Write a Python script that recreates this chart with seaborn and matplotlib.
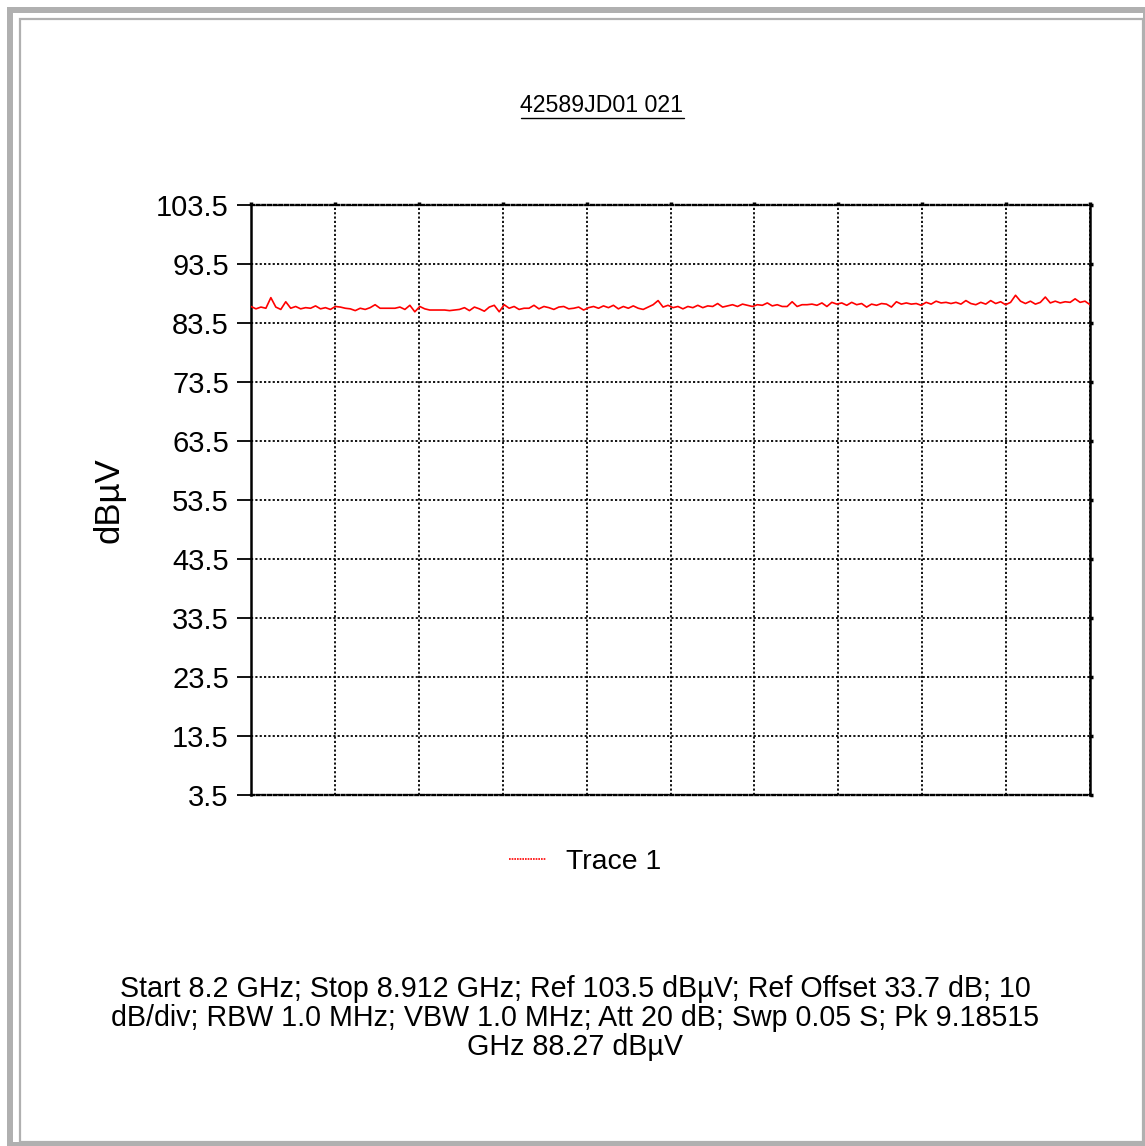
import numpy as np
import pandas as pd
import matplotlib
matplotlib.use("Agg")
import matplotlib.pyplot as plt
from matplotlib.patches import Rectangle
from matplotlib.lines import Line2D
import seaborn as sns

# ---- chart data ----
title = "42589JD01 021"
y_label = "dBµV"
trace_name = "Trace 1"
f_start, f_stop = 8.2, 8.912          # GHz, sweep span
y_ticks = [3.5, 13.5, 23.5, 33.5, 43.5, 53.5, 63.5, 73.5, 83.5, 93.5, 103.5]
n_div = 10

# trace level (dBuV) read across the sweep, left to right
level = [
    86.3, 85.9, 86.2, 86.0, 87.8, 86.2, 85.8, 87.1, 86.0, 86.3, 85.9, 86.1, 86.0, 86.4,
    85.9, 86.1, 85.8, 86.3, 86.2, 86.0, 85.9, 85.6, 86.0, 85.8, 86.1, 86.6, 86.0, 86.0, 86.0,
    86.0, 86.2, 85.8, 86.5, 85.4, 86.3, 85.9, 85.7, 85.7, 85.7, 85.7, 85.6, 85.7, 85.8,
    86.1, 85.6, 86.2, 85.9, 85.5, 86.2, 86.5, 85.4, 86.6, 86.0, 86.3, 85.8, 86.0, 86.0,
    86.5, 85.9, 86.3, 86.1, 85.8, 86.2, 86.3, 85.9, 86.0, 86.2, 85.7, 86.1, 86.3, 86.0,
    86.4, 86.1, 86.5, 85.9, 86.3, 86.0, 86.4, 86.0, 85.8, 86.2, 86.6, 87.3, 86.2, 86.5,
    86.1, 86.3, 85.9, 86.3, 86.1, 86.5, 86.1, 86.4, 86.3, 86.8, 86.2, 86.4, 86.6, 86.3,
    86.7, 86.5, 86.3, 86.6, 86.5, 86.9, 86.4, 86.6, 86.3, 86.3, 87.1, 86.3, 86.6, 86.6,
    86.7, 86.5, 86.9, 86.3, 87.0, 86.7, 86.9, 86.5, 87.0, 86.6, 86.8, 86.2, 86.7, 86.5,
    86.8, 86.7, 86.2, 87.1, 86.7, 86.9, 86.7, 86.8, 86.5, 87.0, 86.7, 87.2, 86.9, 87.0,
    86.8, 87.0, 86.7, 87.3, 86.8, 86.6, 87.0, 86.7, 87.3, 86.8, 87.1, 86.6, 87.0, 88.2,
    87.2, 86.8, 87.2, 86.7, 87.0, 87.9, 86.9, 87.2, 86.9, 87.1, 87.0, 87.6, 87.0, 87.2, 86.6,
]

footer = ("Start 8.2 GHz; Stop 8.912 GHz; Ref 103.5 dBµV; Ref Offset 33.7 dB; 10\n"
          "dB/div; RBW 1.0 MHz; VBW 1.0 MHz; Att 20 dB; Swp 0.05 S; Pk 9.18515\n"
          "GHz 88.27 dBµV")

df = pd.DataFrame({
    "freq": np.linspace(f_start, f_stop, len(level)),
    "level": level,
    "trace": trace_name,
})

sns.set_style("white")
plt.rcParams["font.family"] = ["Liberation Sans", "DejaVu Sans"]
plt.rcParams["text.color"] = "black"
plt.rcParams["ytick.labelcolor"] = "black"
plt.rcParams["axes.labelcolor"] = "black"

W, H = 1145, 1146
fig = plt.figure(figsize=(W / 100, H / 100), dpi=100)

def fx(x):
    return x / W

def fy(y):
    return 1 - y / H

# page frame (behind everything)
fig.patches.append(Rectangle((fx(7), fy(1146)), fx(1145) - fx(7), fy(7) - fy(1146),
                             transform=fig.transFigure, facecolor="#b0b0b0", edgecolor="none", zorder=-3))
fig.patches.append(Rectangle((fx(13), fy(1142)), fx(1143) - fx(13), fy(13) - fy(1142),
                             transform=fig.transFigure, facecolor="white", edgecolor="none", zorder=-2))
fig.patches.append(Rectangle((fx(20), fy(1142)), fx(1143) - fx(20), fy(19) - fy(1142),
                             transform=fig.transFigure, facecolor="none", edgecolor="#b0b0b0",
                             linewidth=1.6, zorder=-1))

ax = fig.add_axes([fx(251), fy(795), fx(1090) - fx(251), fy(205) - fy(795)])
ax.set_facecolor("none")

sns.lineplot(data=df, x="freq", y="level", hue="trace", palette=["#ff0000"],
             linewidth=1.2, ax=ax, legend=False, zorder=3)

ax.set_xlim(f_start, f_stop)
ax.set_ylim(y_ticks[0], y_ticks[-1])
ax.set_xticks(np.linspace(f_start, f_stop, n_div + 1))
ax.set_xticklabels([])
ax.set_yticks(y_ticks)
ax.set_yticklabels([f"{t:.1f}" for t in y_ticks], fontsize=21)
ax.set_xlabel("")
ax.set_ylabel(y_label, fontsize=25, labelpad=22)

ax.grid(True, color="black", linestyle=(0, (1.2, 1.2)), linewidth=1.3)
ax.tick_params(axis="y", left=True, right=False, length=10, width=1.3, color="black",
               pad=6, direction="out")
ax.tick_params(axis="x", bottom=False, top=True, length=2.5, width=2.5, color="black")
for side in ["left", "right"]:
    ax.spines[side].set_color("black")
    ax.spines[side].set_linewidth(1.8)
for side in ["top", "bottom"]:
    ax.spines[side].set_color("black")
    ax.spines[side].set_linewidth(1.7)
    ax.spines[side].set_linestyle((0, (1.2, 1.2)))

# short square tick marks on the right edge
ax_r = ax.twinx()
ax_r.set_ylim(ax.get_ylim())
ax_r.set_yticks(y_ticks)
ax_r.set_yticklabels([])
ax_r.tick_params(axis="y", right=True, length=2.5, width=2.5, color="black")
ax_r.grid(False)
for s in ax_r.spines.values():
    s.set_visible(False)

# legend
handle = Line2D([], [], color="#ff0000", linewidth=1.2, linestyle=(0, (1, 0.6)))
fig.legend([handle], [trace_name], loc="center", bbox_to_anchor=(fx(585), fy(862)),
           frameon=False, fontsize=20.4, handlelength=1.3, handletextpad=0.7)

# title with underline
t = fig.text(fx(602), fy(105), title, ha="center", va="center", fontsize=16.7)
fig.canvas.draw()
bb = t.get_window_extent()
fig.add_artist(Line2D([bb.x0 / W, bb.x1 / W], [(bb.y0 - 1) / H, (bb.y0 - 1) / H],
                      transform=fig.transFigure, color="black", linewidth=1))

fig.text(fx(575), fy(1018), footer, ha="center", va="center", fontsize=20.6,
         linespacing=1.03)

fig.savefig("out.png", dpi=100)
